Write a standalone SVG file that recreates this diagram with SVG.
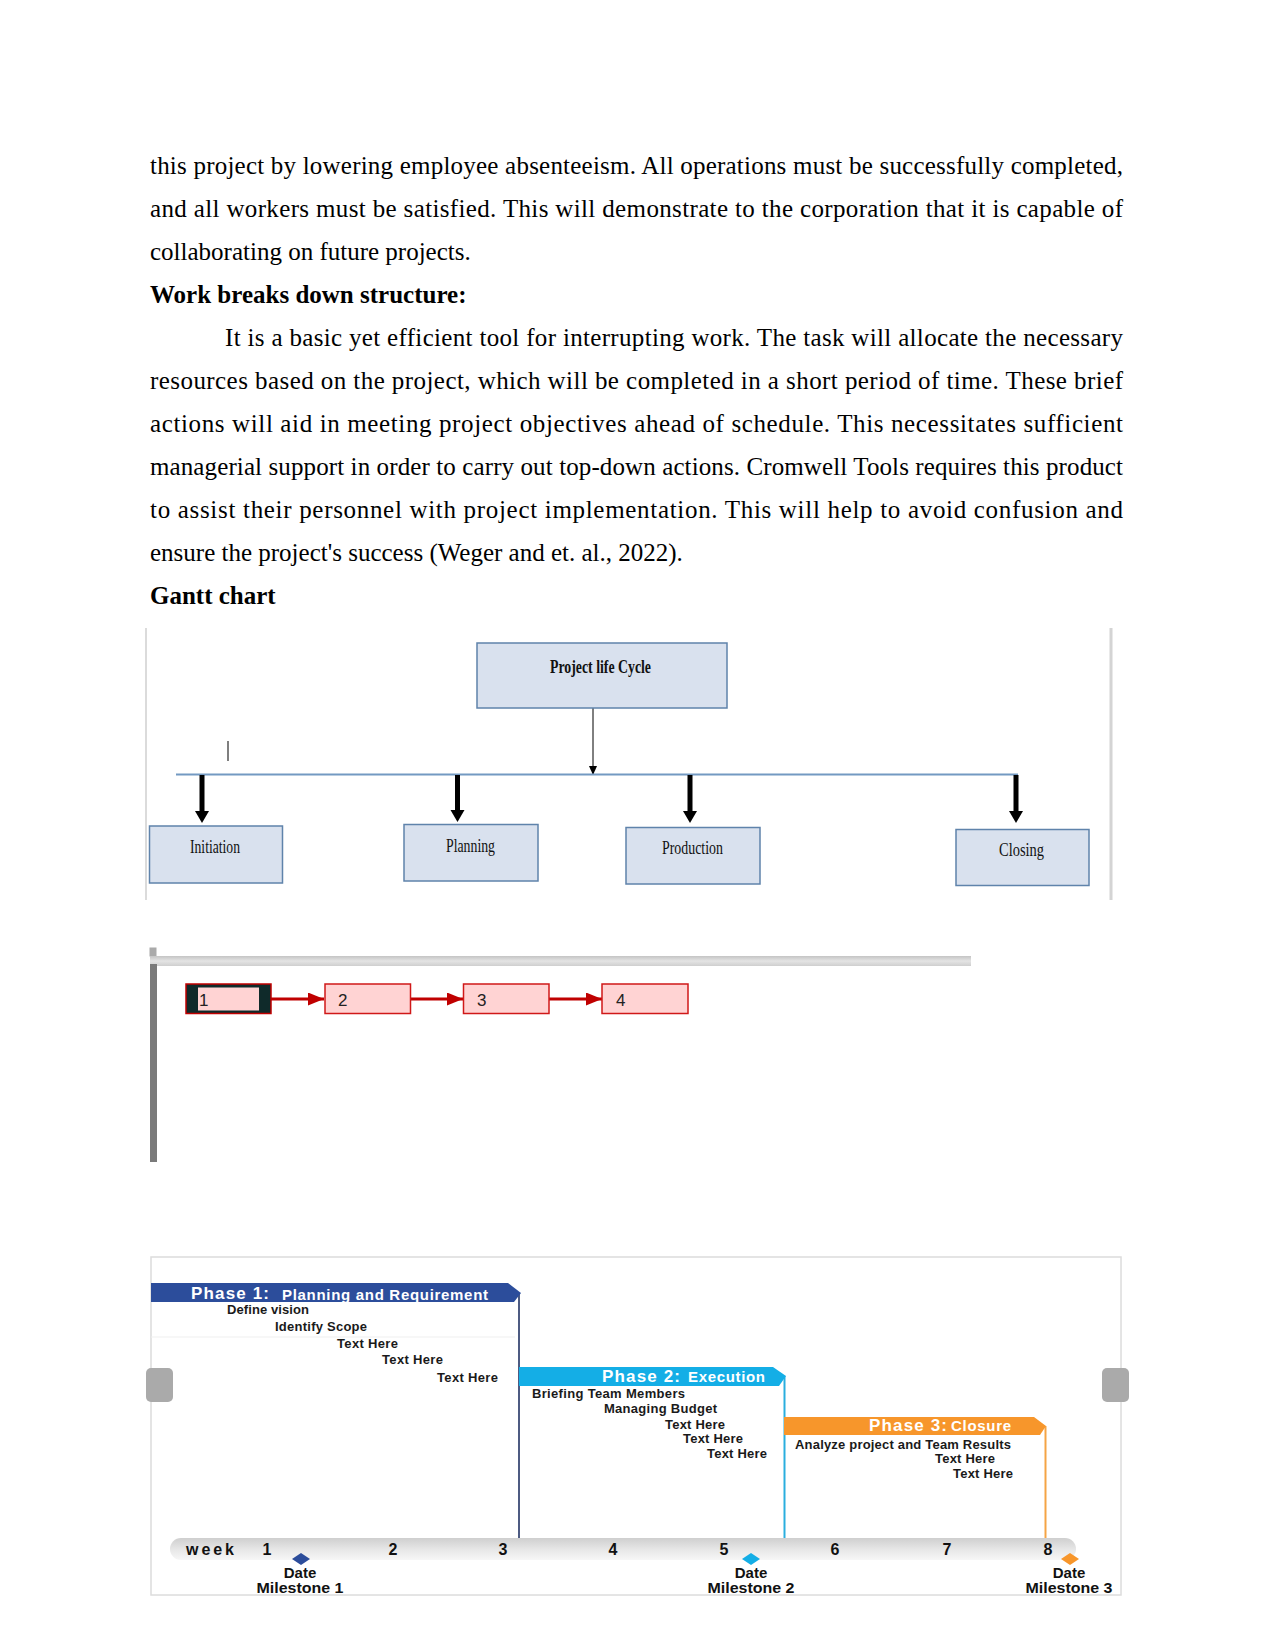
<svg xmlns="http://www.w3.org/2000/svg" width="1275" height="1651" viewBox="0 0 1275 1651">
<defs>
<style>
.body{font-family:"Liberation Serif","Times New Roman",serif;font-size:25px;fill:#000}
.bold{font-weight:bold}
.wbsbox{fill:#d9e1ee;stroke:#5f83ab;stroke-width:1.5}
.wbst{font-family:"Liberation Serif","Times New Roman",serif;font-size:19px;fill:#111;text-anchor:start}
.netbox{fill:#ffd3d3;stroke:#d01818;stroke-width:1.5}
.netnum{font-family:"Liberation Sans",Arial,sans-serif;font-size:17px;fill:#222}
.banner{font-family:"Liberation Sans",Arial,sans-serif;font-weight:bold;fill:#fff}
.task{font-family:"Liberation Sans",Arial,sans-serif;font-weight:bold;font-size:13px;fill:#1a1a1a}
.tl{font-family:"Liberation Sans",Arial,sans-serif;font-weight:bold;font-size:16px;fill:#111;text-anchor:middle}
.ms{font-family:"Liberation Sans",Arial,sans-serif;font-weight:bold;font-size:15px;fill:#111;text-anchor:middle}
</style>
<marker id="thin" markerUnits="userSpaceOnUse" markerWidth="9" markerHeight="8" refX="9" refY="4" orient="auto" viewBox="0 0 9 8">
<path d="M0,0 L9,4 L0,8 Z" fill="#000"/>
</marker>
<marker id="redhead" markerUnits="userSpaceOnUse" markerWidth="16" markerHeight="13" refX="16" refY="6.5" orient="auto" viewBox="0 0 16 13">
<path d="M0,0 L16,6.5 L0,13 Z" fill="#c00000"/>
</marker>
<linearGradient id="tlgrad" x1="0" y1="0" x2="0" y2="1">
<stop offset="0" stop-color="#cfcfcf"/>
<stop offset="0.5" stop-color="#e6e6e6"/>
<stop offset="1" stop-color="#f7f7f7"/>
</linearGradient>
<linearGradient id="bargrad" x1="0" y1="0" x2="0" y2="1">
<stop offset="0" stop-color="#c4c4c4"/>
<stop offset="0.5" stop-color="#e4e4e4"/>
<stop offset="1" stop-color="#cfcfcf"/>
</linearGradient>
</defs>
<rect width="1275" height="1651" fill="#fff"/>

<g id="body-text">
<text class="body" x="150" y="174" textLength="973" lengthAdjust="spacing">this project by lowering employee absenteeism. All operations must be successfully completed,</text>
<text class="body" x="150" y="217" textLength="973" lengthAdjust="spacing">and all workers must be satisfied. This will demonstrate to the corporation that it is capable of</text>
<text class="body" x="150" y="260">collaborating on future projects.</text>
<text class="body bold" x="150" y="303">Work breaks down structure:</text>
<text class="body" x="225" y="346" textLength="898" lengthAdjust="spacing">It is a basic yet efficient tool for interrupting work. The task will allocate the necessary</text>
<text class="body" x="150" y="389" textLength="973" lengthAdjust="spacing">resources based on the project, which will be completed in a short period of time. These brief</text>
<text class="body" x="150" y="432" textLength="973" lengthAdjust="spacing">actions will aid in meeting project objectives ahead of schedule. This necessitates sufficient</text>
<text class="body" x="150" y="475" textLength="973" lengthAdjust="spacing">managerial support in order to carry out top-down actions. Cromwell Tools requires this product</text>
<text class="body" x="150" y="518" textLength="973" lengthAdjust="spacing">to assist their personnel with project implementation. This will help to avoid confusion and</text>
<text class="body" x="150" y="561">ensure the project's success (Weger and et. al., 2022).</text>
<text class="body bold" x="150" y="604">Gantt chart</text>
</g>

<g id="wbs-frame">
<line x1="146" y1="628" x2="146" y2="900" stroke="#cfcfcf" stroke-width="1.5"/>
<line x1="1111" y1="628" x2="1111" y2="900" stroke="#d4d4d4" stroke-width="3"/>
<line x1="228" y1="741" x2="228" y2="761" stroke="#555" stroke-width="1.5"/>
</g>

<g id="wbs-connectors">
<line x1="593" y1="708" x2="593" y2="775" stroke="#000" stroke-width="1" marker-end="url(#thin)"/>
<line x1="176" y1="774.5" x2="1018" y2="774.5" stroke="#7399c2" stroke-width="2"/>
<g fill="#000">
<rect x="199.5" y="775" width="5" height="37"/><path d="M195,811 L209,811 L202,823 Z"/>
<rect x="455" y="775" width="5" height="36"/><path d="M450.5,810 L464.5,810 L457.5,822 Z"/>
<rect x="687.5" y="775" width="5" height="37"/><path d="M683,811 L697,811 L690,823 Z"/>
<rect x="1013.5" y="775" width="5" height="37"/><path d="M1009,811 L1023,811 L1016,823 Z"/>
</g>
</g>

<g id="node-project-life-cycle">
<rect class="wbsbox" x="477" y="643" width="250" height="65"/>
<text class="wbst" x="550" y="673" font-weight="bold" textLength="101" lengthAdjust="spacingAndGlyphs">Project life Cycle</text>
</g>
<g id="node-initiation">
<rect class="wbsbox" x="149.5" y="826" width="133" height="57"/>
<text class="wbst" x="190" y="853" textLength="50" lengthAdjust="spacingAndGlyphs">Initiation</text>
</g>
<g id="node-planning">
<rect class="wbsbox" x="404" y="824.5" width="134" height="56.5"/>
<text class="wbst" x="446" y="852" textLength="49" lengthAdjust="spacingAndGlyphs">Planning</text>
</g>
<g id="node-production">
<rect class="wbsbox" x="626" y="827.5" width="134" height="56.5"/>
<text class="wbst" x="662" y="854" textLength="61" lengthAdjust="spacingAndGlyphs">Production</text>
</g>
<g id="node-closing">
<rect class="wbsbox" x="956" y="829.5" width="133" height="56"/>
<text class="wbst" x="999" y="856" textLength="45" lengthAdjust="spacingAndGlyphs">Closing</text>
</g>

<g id="network-frame">
<rect x="149.5" y="947.5" width="7" height="9" fill="#aaa"/>
<rect x="150" y="956" width="821" height="10" fill="url(#bargrad)"/>
<rect x="150" y="964" width="7" height="198" fill="#7a7a7a"/>
</g>

<g id="network-connectors">
<line x1="271" y1="999" x2="324" y2="999" stroke="#c00000" stroke-width="3" marker-end="url(#redhead)"/>
<line x1="410.5" y1="999" x2="463" y2="999" stroke="#c00000" stroke-width="3" marker-end="url(#redhead)"/>
<line x1="549" y1="999" x2="602" y2="999" stroke="#c00000" stroke-width="3" marker-end="url(#redhead)"/>
</g>
<g id="net-node-1">
<rect x="186" y="984" width="85" height="29.5" fill="#0f2a2a" stroke="#c00000" stroke-width="1.5"/>
<rect x="198" y="987.5" width="61" height="23" fill="#ffd3d3"/>
<text class="netnum" x="199" y="1006">1</text>
</g>
<g id="net-node-2">
<rect class="netbox" x="325" y="984" width="85.5" height="29.5"/>
<text class="netnum" x="338" y="1006">2</text>
</g>
<g id="net-node-3">
<rect class="netbox" x="463.5" y="984" width="85.5" height="29.5"/>
<text class="netnum" x="477" y="1006">3</text>
</g>
<g id="net-node-4">
<rect class="netbox" x="602" y="984" width="86" height="29.5"/>
<text class="netnum" x="616" y="1006">4</text>
</g>

<g id="gantt">
<rect x="151" y="1257" width="970" height="338" fill="#fff" stroke="#dcdcdc" stroke-width="1.5"/>
<line x1="151" y1="1337" x2="515" y2="1337" stroke="#efefef" stroke-width="1"/>
<rect x="146" y="1368" width="27" height="34" rx="5" fill="#aaaaaa"/>
<rect x="1102" y="1368" width="27" height="34" rx="5" fill="#aaaaaa"/>

<g id="phase1">
<line x1="519" y1="1293" x2="519" y2="1539" stroke="#4d5b82" stroke-width="2"/>
<polygon points="151,1283 508,1283 521,1293 514,1302 151,1302" fill="#2c4d9b"/>
<text class="banner" x="191" y="1299" font-size="17" textLength="78" lengthAdjust="spacing">Phase 1:</text>
<text class="banner" x="282" y="1300" font-size="15" textLength="206" lengthAdjust="spacing">Planning and Requirement</text>
<text class="task" x="227" y="1314" textLength="82" lengthAdjust="spacing">Define vision</text>
<text class="task" x="275" y="1331" textLength="92" lengthAdjust="spacing">Identify  Scope</text>
<text class="task" x="337" y="1348" textLength="61" lengthAdjust="spacing">Text Here</text>
<text class="task" x="382" y="1364" textLength="61" lengthAdjust="spacing">Text Here</text>
<text class="task" x="437" y="1382" textLength="61" lengthAdjust="spacing">Text Here</text>
</g>

<g id="phase2">
<line x1="784.5" y1="1376" x2="784.5" y2="1539" stroke="#2aaede" stroke-width="2"/>
<polygon points="519,1367 773,1367 786,1376 779,1386 519,1386" fill="#14aee6"/>
<text class="banner" x="602" y="1382" font-size="17" textLength="78" lengthAdjust="spacing">Phase 2:</text>
<text class="banner" x="688" y="1382" font-size="15" textLength="77" lengthAdjust="spacing">Execution</text>
<text class="task" x="532" y="1398" textLength="153" lengthAdjust="spacing">Briefing Team Members</text>
<text class="task" x="604" y="1413" textLength="113" lengthAdjust="spacing">Managing Budget</text>
<text class="task" x="665" y="1429" textLength="60" lengthAdjust="spacing">Text Here</text>
<text class="task" x="683" y="1443" textLength="60" lengthAdjust="spacing">Text Here</text>
<text class="task" x="707" y="1458" textLength="60" lengthAdjust="spacing">Text Here</text>
</g>

<g id="phase3">
<line x1="1045.5" y1="1426" x2="1045.5" y2="1539" stroke="#f5a445" stroke-width="2"/>
<polygon points="784,1417 1034,1417 1046,1426 1040,1435 784,1435" fill="#f7962b"/>
<text class="banner" x="869" y="1431" font-size="17" textLength="78" lengthAdjust="spacing">Phase 3:</text>
<text class="banner" x="951" y="1431" font-size="15" textLength="60" lengthAdjust="spacing">Closure</text>
<text class="task" x="795" y="1449" textLength="216" lengthAdjust="spacing">Analyze project and Team Results</text>
<text class="task" x="935" y="1463" textLength="60" lengthAdjust="spacing">Text Here</text>
<text class="task" x="953" y="1478" textLength="60" lengthAdjust="spacing">Text Here</text>
</g>

<g id="timeline">
<rect x="170" y="1538" width="906" height="22" rx="11" fill="url(#tlgrad)"/>
<text class="tl" x="210" y="1555" font-size="17" textLength="48" lengthAdjust="spacing">week</text>
<text class="tl" x="267" y="1555">1</text>
<text class="tl" x="393" y="1555">2</text>
<text class="tl" x="503" y="1555">3</text>
<text class="tl" x="613" y="1555">4</text>
<text class="tl" x="724" y="1555">5</text>
<text class="tl" x="835" y="1555">6</text>
<text class="tl" x="947" y="1555">7</text>
<text class="tl" x="1048" y="1555">8</text>
</g>

<g id="milestone1">
<polygon points="301,1553 310,1559 301,1565 292,1559" fill="#2c4d9b"/>
<text class="ms" x="300" y="1578">Date</text>
<text class="ms" x="300" y="1593" textLength="87" lengthAdjust="spacingAndGlyphs">Milestone 1</text>
</g>
<g id="milestone2">
<polygon points="751,1553 760,1559 751,1565 742,1559" fill="#14aee6"/>
<text class="ms" x="751" y="1578">Date</text>
<text class="ms" x="751" y="1593" textLength="87" lengthAdjust="spacingAndGlyphs">Milestone 2</text>
</g>
<g id="milestone3">
<polygon points="1070,1553 1079,1559 1070,1565 1061,1559" fill="#f7962b"/>
<text class="ms" x="1069" y="1578">Date</text>
<text class="ms" x="1069" y="1593" textLength="87" lengthAdjust="spacingAndGlyphs">Milestone 3</text>
</g>
</g>
</svg>
